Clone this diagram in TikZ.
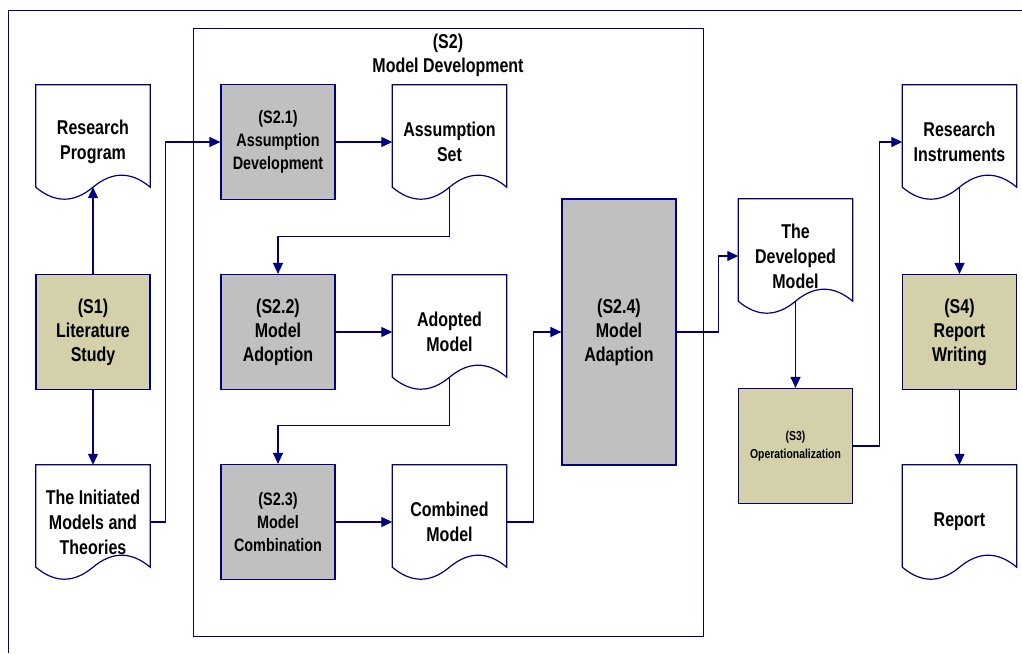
\documentclass[tikz,border=0pt]{standalone}
\usepackage{fontspec}
\newfontfamily\lbf[FakeStretch=0.8]{Liberation Sans}
\usetikzlibrary{arrows.meta,calc}
\definecolor{ln}{RGB}{0,0,128}
\definecolor{khaki}{RGB}{212,208,170}
\definecolor{grayfill}{RGB}{192,192,192}
\begin{document}
\begin{tikzpicture}[x=1pt,y=-1pt,
 every node/.style={font=\lbf\bfseries\fontsize{20}{24}\selectfont, align=center, inner sep=0pt},
 proc/.style={draw=ln, line width=1.2pt, minimum width=114pt, minimum height=115pt},
 sbox/.style={proc, fill=khaki},
 gbox/.style={proc, fill=grayfill},
 small/.style={font=\lbf\bfseries\fontsize{18}{23}\selectfont},
 tiny/.style={font=\lbf\bfseries\fontsize{13}{18}\selectfont},
 docn/.style={minimum width=114pt, minimum height=114pt, font=\lbf\bfseries\fontsize{20}{25}\selectfont},
 docline/.style={draw=ln, line width=1.2pt},
 arr/.style={draw=ln, line width=1.2pt, -{Triangle[length=11pt,width=10pt]}},
 frame/.style={draw=ln, line width=1pt}]
\useasboundingbox (0,0) rectangle (1022,653);
\fill[white] (0,0) rectangle (1022,653);
% outer frame
\draw[frame] (8,653) -- (8,10) -- (1022,10);
% S2 frame
\node[frame, minimum width=510pt, minimum height=608pt] (s2) at (448,332) {};
\node (s2t) at (448,55) {(S2)\\Model Development};
% nodes
\node[docn] (rp) at (93,142) {Research\\Program};
\node[sbox] (s1) at (93,332) {(S1)\\Literature\\Study};
\node[docn] (imt) at (93,522) {The Initiated\\Models and\\Theories};
\node[gbox, small] (s21) at (278,142) {(S2.1)\\Assumption\\Development};
\node[docn] (as) at (449.5,142) {Assumption\\Set};
\node[gbox] (s22) at (278,332) {(S2.2)\\Model\\Adoption};
\node[docn] (am) at (449.5,332) {Adopted\\Model};
\node[gbox, small] (s23) at (278,522) {(S2.3)\\Model\\Combination};
\node[docn] (cm) at (449.5,522) {Combined\\Model};
\node[gbox, minimum height=266pt] (s24) at (619,332) {(S2.4)\\Model\\Adaption};
\node[docn] (dm) at (795.5,256) {The\\Developed\\Model};
\node[sbox, tiny] (s3) at (795.5,446) {(S3)\\Operationalization};
\node[docn] (ri) at (959.5,142) {Research\\Instruments};
\node[sbox] (s4) at (959.5,332) {(S4)\\Report\\Writing};
\node[docn] (rep) at (959.5,522) {Report};
% document shapes
\foreach \n in {rp,imt,as,am,cm,dm,ri,rep}{
  \coordinate (\n-w) at ($(\n.south)+(0,-12)$);
  \draw[docline] (\n.north west) -- (\n.north east) -- ($(\n.south east)+(0,-12)$)
    .. controls ($(\n.south east)+(-19,-28)$) and ($(\n.south east)+(-38,-28)$) .. (\n-w)
    .. controls ($(\n.south west)+(38,4)$) and ($(\n.south west)+(19,4)$) .. ($(\n.south west)+(0,-12)$)
    -- cycle;
}
% connectors
\draw[arr] (s1.north) -- (rp-w);
\draw[arr] (s1.south) -- (imt.north);
\draw[arr] (imt.east) -- ++(15,0) |- (s21.west);
\draw[arr] (s21.east) -- (as.west);
\draw[arr] (as-w) -- ++(0,49) -| (s22.north);
\draw[arr] (s22.east) -- (am.west);
\draw[arr] (am-w) -- ++(0,48) -| (s23.north);
\draw[arr] (s23.east) -- (cm.west);
\draw[arr] (cm.east) -- ++(27,0) |- (s24.west);
\draw[arr] (s24.east) -- ++(42,0) |- (dm.west);
\draw[arr] (dm-w) -- (s3.north);
\draw[arr] (s3.east) -- ++(26,0) |- (ri.west);
\draw[arr] (ri-w) -- (s4.north);
\draw[arr] (s4.south) -- (rep.north);
\end{tikzpicture}
\end{document}
